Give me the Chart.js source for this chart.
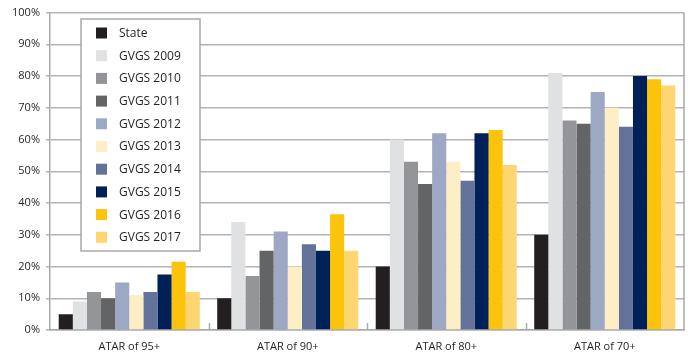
<!DOCTYPE html>
<html>
<head>
<meta charset="utf-8">
<script src="https://cdn.jsdelivr.net/npm/chart.js@4"></script>
<style>
  html, body { margin: 0; padding: 0; background: #fff; }
  #wrap { width: 694px; height: 354px; }
</style>
</head>
<body>
<div id="wrap"><canvas id="atarChart"></canvas></div>
<script>
const categories = ['ATAR of 95+', 'ATAR of 90+', 'ATAR of 80+', 'ATAR of 70+'];
const seriesNames = ['State', 'GVGS 2009', 'GVGS 2010', 'GVGS 2011', 'GVGS 2012',
    'GVGS 2013', 'GVGS 2014', 'GVGS 2015', 'GVGS 2016', 'GVGS 2017'];
const state = [5, 10, 20, 30];
const gvgs2009 = [9, 34, 60, 81];
const gvgs2010 = [12, 17, 53, 66];
const gvgs2011 = [10, 25, 46, 65];
const gvgs2012 = [15, 31, 62, 75];
const gvgs2013 = [11, 20, 53, 70];
const gvgs2014 = [12, 27, 47, 64];
const gvgs2015 = [17.5, 25, 62, 80];
const gvgs2016 = [21.5, 36.5, 63, 79];
const gvgs2017 = [12, 25, 52, 77];
const colors = ['#231f20', '#e0e1e3', '#939598', '#636466', '#9da8c4',
    '#fdeec5', '#627299', '#002157', '#fcc30b', '#fdd672'];

const allSeries = [state, gvgs2009, gvgs2010, gvgs2011, gvgs2012,
    gvgs2013, gvgs2014, gvgs2015, gvgs2016, gvgs2017];

const FONT = '"Open Sans", "Noto Sans", sans-serif';

// draws the framed legend inside the plot and the little boundary ticks
const extras = {
    id: 'extras',
    afterDatasetsDraw(chart) {
        const ctx = chart.ctx;
        const area = chart.chartArea;
        const x = chart.scales.x;
        ctx.save();
        ctx.strokeStyle = '#a7a9ac';
        ctx.lineWidth = 1.5;
        // right border
        ctx.beginPath();
        ctx.moveTo(area.right, area.top);
        ctx.lineTo(area.right, area.bottom);
        ctx.stroke();
        // category boundary ticks
        const half = (x.getPixelForValue(1) - x.getPixelForValue(0)) / 2;
        for (let i = 1; i < categories.length; i++) {
            const px = Math.round(x.getPixelForValue(i) - half) + 0.5;
            ctx.beginPath();
            ctx.moveTo(px, area.bottom);
            ctx.lineTo(px, area.bottom - 7);
            ctx.stroke();
        }

        // legend box
        const bx = 81, by = 19, bw = 119, bh = 232;
        ctx.fillStyle = '#fff';
        ctx.fillRect(bx, by, bw, bh);
        ctx.strokeStyle = '#a7a9ac';
        ctx.lineWidth = 1.5;
        ctx.strokeRect(bx, by, bw, bh);
        ctx.font = '12px ' + FONT;
        ctx.textBaseline = 'middle';
        chart.data.datasets.forEach((ds, i) => {
            const cy = by + 14 + i * 22.7;
            ctx.fillStyle = ds.backgroundColor;
            ctx.fillRect(bx + 15, cy - 5.5, 11, 11);
            ctx.fillStyle = '#231f20';
            ctx.fillText(ds.label, bx + 38, cy + 0.5);
        });
        ctx.restore();
    }
};

new Chart(document.getElementById('atarChart'), {
    type: 'bar',
    data: {
        labels: categories,
        datasets: seriesNames.map((name, i) => ({
            label: name,
            data: allSeries[i],
            backgroundColor: colors[i],
            borderWidth: 0,
            barPercentage: 1.0,
            categoryPercentage: 0.89
        }))
    },
    options: {
        responsive: true,
        maintainAspectRatio: false,
        animation: false,
        layout: { padding: { top: 10, right: 10, left: 0, bottom: 0 } },
        plugins: {
            legend: { display: false },
            tooltip: { enabled: false }
        },
        scales: {
            x: {
                grid: { display: false },
                border: { color: '#a7a9ac', width: 1.5 },
                ticks: { color: '#231f20', font: { family: FONT, size: 11 }, padding: 2 },
                afterFit(scale) { scale.height = 24; }
            },
            y: {
                min: 0,
                max: 100,
                ticks: {
                    stepSize: 10,
                    color: '#231f20',
                    font: { family: FONT, size: 11 },
                    padding: 6,
                    callback: v => v + '%'
                },
                grid: { color: '#b1b3b6', lineWidth: 1.5, drawTicks: true, tickLength: 4 },
                border: { color: '#a7a9ac', width: 1.5 },
                afterFit(scale) { scale.width = 50; }
            }
        }
    },
    plugins: [extras]
});
</script>
</body>
</html>
